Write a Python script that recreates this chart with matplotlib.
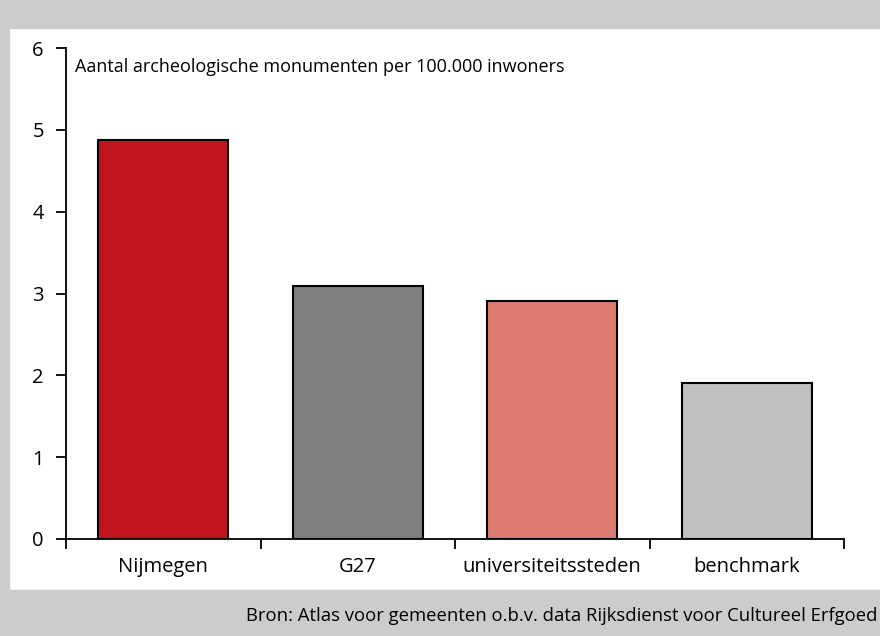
import numpy as np
import matplotlib.pyplot as plt
from matplotlib.patches import Rectangle

# Data
categories = ['Nijmegen', 'G27', 'universiteitssteden', 'benchmark']
values = [4.87, 3.09, 2.91, 1.91]
colors = ['#c0141f', '#808080', '#dc7b72', '#c0c0c0']

plt.rcParams['font.family'] = ['Open Sans', 'DejaVu Sans']

W, H = 880, 636
fig = plt.figure(figsize=(W / 100, H / 100), dpi=100)
fig.patch.set_facecolor('white')

# Gray frame around the chart
gray = '#cccccc'
fig.patches.append(Rectangle((0, 0), 1, 46 / H, transform=fig.transFigure, color=gray, zorder=0))
fig.patches.append(Rectangle((0, 1 - 28 / H), 1, 28 / H, transform=fig.transFigure, color=gray, zorder=0))
fig.patches.append(Rectangle((0, 0), 9 / W, 1, transform=fig.transFigure, color=gray, zorder=0))

ax = fig.add_axes([66 / W, 1 - 539 / H, (844 - 66) / W, (539 - 48) / H])
ax.patch.set_alpha(0)

x = np.arange(len(categories))
ax.bar(x, values, width=0.67, color=colors, edgecolor='black', linewidth=1.5, zorder=2)

ax.set_xlim(-0.5, len(categories) - 0.5)
ax.set_ylim(0, 6)

# Spines
for s in ['top', 'right']:
    ax.spines[s].set_visible(False)
for s in ['left', 'bottom']:
    ax.spines[s].set_linewidth(1.3)

# x ticks at category boundaries, labels centered
ax.set_xticks(np.arange(-0.5, len(categories), 1.0))
ax.set_xticklabels([])
ax.set_xticks(x, minor=True)
ax.set_xticklabels(categories, minor=True, fontsize=14.5)
ax.tick_params(axis='x', which='major', direction='out', length=7, width=1.3)
ax.tick_params(axis='x', which='minor', length=0, pad=13)

ax.set_yticks(range(0, 7))
ax.tick_params(axis='y', direction='out', length=7, width=1.3, labelsize=14.5, pad=9)

ax.text(0.012, 0.962, 'Aantal archeologische monumenten per 100.000 inwoners',
        transform=ax.transAxes, fontsize=13, va='center', ha='left')

fig.text(877 / W, 1 - 621 / H,
         'Bron: Atlas voor gemeenten o.b.v. data Rijksdienst voor Cultureel Erfgoed',
         ha='right', va='baseline', fontsize=13.3)

fig.savefig('out.png', dpi=100)
